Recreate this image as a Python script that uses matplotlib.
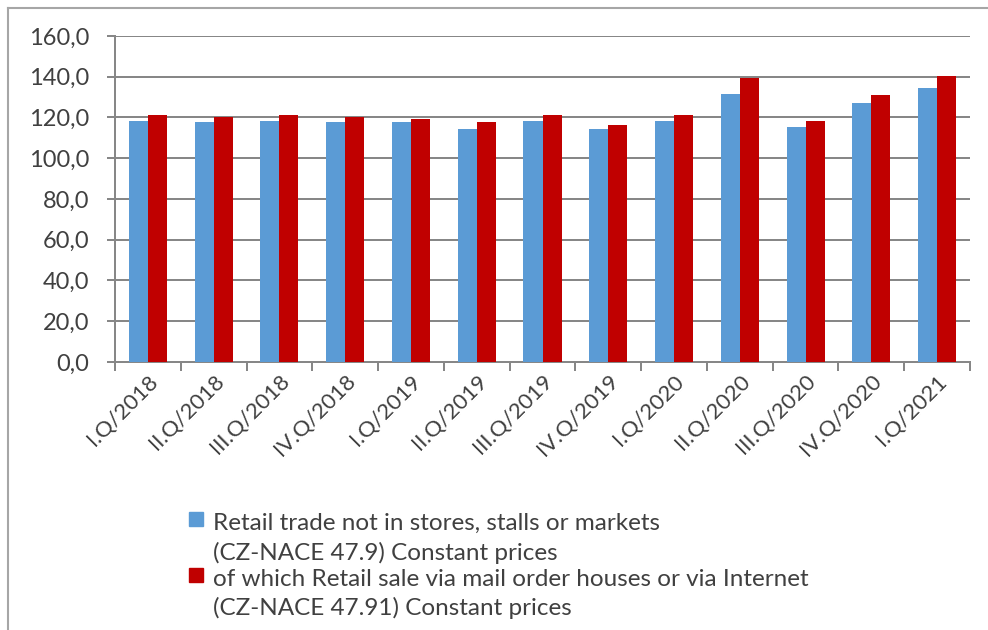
import matplotlib
matplotlib.use("Agg")
import matplotlib.pyplot as plt
import numpy as np
from matplotlib.patches import Rectangle
from matplotlib.lines import Line2D

categories = ["I.Q/2018", "II.Q/2018", "III.Q/2018", "IV.Q/2018",
              "I.Q/2019", "II.Q/2019", "III.Q/2019", "IV.Q/2019",
              "I.Q/2020", "II.Q/2020", "III.Q/2020", "IV.Q/2020", "I.Q/2021"]
retail_not_in_stores = [118.4, 117.6, 118.4, 117.6, 117.6, 114.6, 118.4, 114.5,
                        118.3, 131.6, 115.2, 126.9, 134.3]
mail_order_internet = [121.3, 120.4, 121.3, 120.4, 119.5, 117.6, 121.3, 116.4,
                       121.3, 139.4, 118.3, 130.8, 140.5]
series_labels = [["Retail trade not in stores, stalls or markets",
                  "(CZ-NACE 47.9) Constant prices"],
                 ["of which Retail sale via mail order houses or via Internet",
                  "(CZ-NACE 47.91) Constant prices"]]
y_ticks = [0, 20, 40, 60, 80, 100, 120, 140, 160]

blue = "#5B9BD5"
red = "#C00000"
grid_c = "#878787"
text_c = "#404040"
font = "Lato"

fig = plt.figure(figsize=(9.88, 6.3), dpi=100)
W, H = 988, 630
PX = 72 / 100  # points per pixel
ax = fig.add_axes([115 / W, 1 - 362 / H, (970 - 115) / W, (362 - 36) / H])

x = np.arange(len(categories))
bw = 0.29
ax.bar(x - bw / 2, retail_not_in_stores, bw, color=blue, zorder=3)
ax.bar(x + bw / 2, mail_order_internet, bw, color=red, zorder=3)

ax.set_xlim(-0.5, len(categories) - 0.5)
ax.set_ylim(0, 160)
ax.set_yticks(y_ticks)
ax.set_yticklabels([f"{v:.1f}".replace(".", ",") for v in y_ticks],
                   fontsize=17, color=text_c, family=font)
ax.yaxis.grid(True, color=grid_c, linewidth=2 * PX, zorder=0)
ax.set_axisbelow(True)

ax.set_xticks(np.arange(-0.5, len(categories), 1.0))
ax.set_xticklabels([])
ax.set_xticks(x, minor=True)
ax.set_xticklabels(categories, minor=True, rotation=45, ha="right",
                   rotation_mode="anchor", fontsize=16, color=text_c, family=font)
ax.tick_params(axis="x", which="minor", length=0, pad=9 * PX * 1.0)
ax.tick_params(axis="x", which="major", length=9 * PX, width=2 * PX, color=grid_c)
ax.tick_params(axis="y", length=8 * PX, width=2 * PX, color=grid_c, pad=18 * PX)

for s in ["top", "right"]:
    ax.spines[s].set_visible(False)
for s in ["left", "bottom"]:
    ax.spines[s].set_color(grid_c)
    ax.spines[s].set_linewidth(2 * PX)

# outer border
fig.add_artist(Line2D([8 / W, 8 / W], [0, 1 - 8 / H], color="#A6A6A6", linewidth=1.5,
                      transform=fig.transFigure))
fig.add_artist(Line2D([8 / W, 1], [1 - 8 / H, 1 - 8 / H], color="#A6A6A6", linewidth=1.5,
                      transform=fig.transFigure))

# legend (drawn manually: marker aligned to first line of each entry)
colors = [blue, red]
marker_tops = [512, 568]
line_centers = [[523, 553], [580, 608]]
for c, mt, lines, centers in zip(colors, marker_tops, series_labels, line_centers):
    fig.add_artist(Rectangle((189 / W, 1 - (mt + 14) / H), 14 / W, 14 / H,
                             color=c, transform=fig.transFigure))
    for txt, yc in zip(lines, centers):
        fig.text(213 / W, 1 - yc / H, txt, ha="left", va="center",
                 fontsize=17.5, color=text_c, family=font)

fig.savefig("out.png", dpi=100)
